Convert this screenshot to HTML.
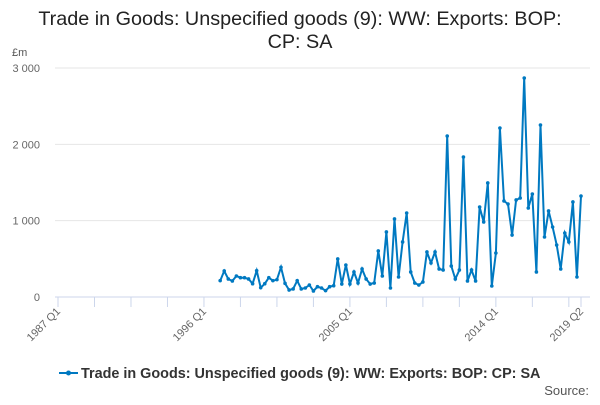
<!DOCTYPE html>
<html><head><meta charset="utf-8"><style>
body{margin:0;background:#fff;font-family:"Liberation Sans",sans-serif;}
svg text{font-family:"Liberation Sans",sans-serif;}
</style></head><body>
<svg width="600" height="400" id="c">
<text x="300" y="25" text-anchor="middle" font-size="19.8" fill="#222">Trade in Goods: Unspecified goods (9): WW: Exports: BOP:</text>
<text x="300" y="48" text-anchor="middle" font-size="19.8" fill="#222">CP: SA</text>
<text x="12" y="56" font-size="11" fill="#555">£m</text>
<g id="grid"></g><g id="xax"></g>
<path id="line" fill="none" stroke="#0079c1" stroke-width="2"/>
<g id="pts"></g>
<g>
<line x1="59" y1="373" x2="78" y2="373" stroke="#0079c1" stroke-width="2"/>
<circle cx="68.5" cy="373" r="2.5" fill="#0079c1"/>
<text x="81" y="378" font-size="14.4" font-weight="bold" fill="#333">Trade in Goods: Unspecified goods (9): WW: Exports: BOP: CP: SA</text>
</g>
<text x="589" y="395" text-anchor="end" font-size="13" fill="#555">Source:</text>
</svg>
<script>
const startIndex = 40;
const values = [214,341,236,210,275,253,253,236,174,345,122,174,253,214,227,389,179,92,105,214,105,118,157,79,135,118,83,135,148,498,170,419,170,328,183,367,236,170,183,603,275,852,118,1022,262,721,1100,328,183,157,197,590,445,590,367,354,2109,406,236,354,1834,210,354,210,1179,983,1494,144,576,2214,1258,1218,812,1271,1297,2869,1166,1349,328,2253,786,1127,917,681,367,838,721,1245,262,1323];
const yTicks = [0,1000,2000,3000];
const yTickLabels = ["0","1 000","2 000","3 000"];
const xLabelIdx = [0,36,72,108,129];
const xLabels = ["1987 Q1","1996 Q1","2005 Q1","2014 Q1","2019 Q2"];
const NS="http://www.w3.org/2000/svg";
const X0=58,X1=581,N=129,Y0=297,Y3=68;
const xs=i=>X0+(X1-X0)*i/N;
const ys=v=>Y0-(Y0-Y3)*v/3000;
const grid=document.getElementById('grid'),xax=document.getElementById('xax');
function mk(tag,attrs,parent){const e=document.createElementNS(NS,tag);for(const k in attrs)e.setAttribute(k,attrs[k]);parent.appendChild(e);return e;}
yTicks.forEach((v,i)=>{
  const l=mk('line',{x1:55,x2:590,y1:ys(v),y2:ys(v),stroke:v===0?'#ccd6eb':'#e6e6e6'},grid);
  
  
  const t=mk('text',{x:40,y:ys(v)+4,'text-anchor':'end','font-size':11,fill:'#666'},grid);
  
  
  t.textContent=yTickLabels[i];
});
for(let i=0;i<=N;i+=9){
  const l=mk('line',{x1:xs(i),x2:xs(i),y1:297,y2:307,stroke:'#ccd6eb'},xax);
  
  
}
mk('line',{x1:xs(N),x2:xs(N),y1:297,y2:307,stroke:'#ccd6eb'},xax);
xLabelIdx.forEach((q,i)=>{
  const x=xs(q);
  const t=mk('text',{x:x+3,y:312,'text-anchor':'end','font-size':11,fill:'#666',transform:`rotate(-45 ${x+3} 312)`},xax);
  
  
  t.textContent=xLabels[i];
});
let d='';
const pts=document.getElementById('pts');
values.forEach((v,i)=>{
  const x=xs(startIndex+i),y=ys(v);
  d+=(i?'L':'M')+x.toFixed(1)+' '+y.toFixed(1);
  const c=mk('circle',{cx:x,cy:y,r:1.8,fill:'#0079c1'},pts);
  
  
});
document.getElementById('line').setAttribute('d',d);
</script>
</body></html>
